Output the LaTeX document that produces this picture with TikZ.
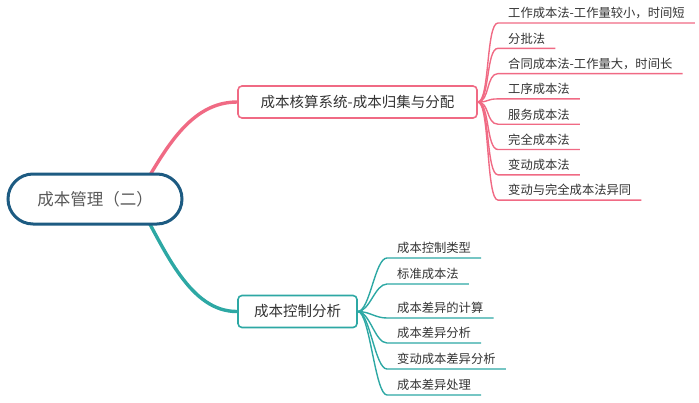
\documentclass[tikz,border=0pt]{standalone}
\usepackage{fontspec}
\setmainfont{Noto Sans CJK SC}
\usetikzlibrary{positioning}
\pgfdeclarelayer{background}
\pgfsetlayers{background,main}
\definecolor{rosa}{HTML}{F06A84}
\definecolor{verde}{HTML}{2DA8A4}
\definecolor{blu}{HTML}{1D5B82}
\definecolor{testo}{HTML}{333333}
\tikzset{
  radice/.style = {rectangle, rounded corners=25pt, draw=blu, line width=3pt, fill=white, minimum width=174pt, minimum height=50pt, text=black!65, font=\fontsize{16.5}{18}\selectfont},
  ramo/.style   = {rectangle, rounded corners=4pt, draw=#1, line width=1.6pt, fill=white, minimum height=32pt, text=testo, font=\fontsize{14.5}{16}\selectfont},
  voce/.style   = {anchor=south west, inner xsep=10pt, inner ysep=3pt, text height=10pt, text depth=2pt, text=testo, font=\fontsize{12.3}{14}\selectfont},
  tronco/.style = {line width=3.4pt, line cap=round},
  filo/.style   = {line width=1.4pt}
}
\begin{document}
\begin{tikzpicture}[x=1pt,y=-1pt]
  \useasboundingbox (0,0) rectangle (699,402);

  \node[radice] (root) at (95,199) {成本管理（二）};
  \node[ramo=rosa, minimum width=239pt]  (b1) at (357.5,102) {成本核算系统-成本归集与分配};
  \node[ramo=verde, minimum width=119pt] (b2) at (297.5,311.5) {成本控制分析};

  % rami principali
  \coordinate (r1) at (140,192);
  \coordinate (r2) at (140,206);
  \begin{pgfonlayer}{background}
    \draw[tronco, rosa]  (r1) .. controls (165,150) and (190,102) .. (b1.west);
    \draw[tronco, verde] (r2) .. controls (165,250) and (190,312) .. (b2.west);
  \end{pgfonlayer}

  % foglie in alto (8)
  \foreach \t [count=\i] in {工作成本法-工作量较小，时间短, 分批法, 合同成本法-工作量大，时间长, 工序成本法, 服务成本法, 完全成本法, 变动成本法, 变动与完全成本法异同}{
    \node[voce] (p\i) at (498,{23+25.3*(\i-1)}) {\t};
    \draw[filo, rosa] (b1.east) .. controls +(12,0) and +(-12,0) .. (p\i.south west) -- (p\i.south east);
  }

  % foglie in basso (6)
  \foreach \y/\t [count=\i] in {258/成本控制类型, 284/标准成本法, 318/成本差异的计算, 343/成本差异分析, 369/变动成本差异分析, 395/成本差异处理}{
    \node[voce] (v\i) at (387,\y) {\t};
    \draw[filo, verde] (b2.east) .. controls +(12,0) and +(-12,0) .. (v\i.south west) -- (v\i.south east);
  }
\end{tikzpicture}
\end{document}
